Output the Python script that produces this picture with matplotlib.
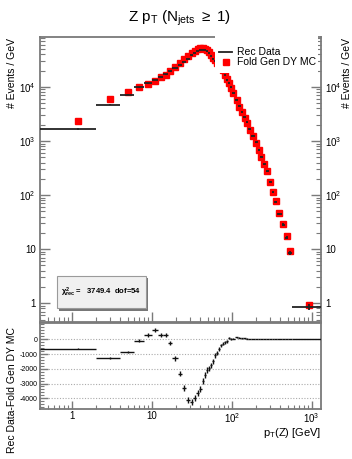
import matplotlib
matplotlib.use("Agg")
import matplotlib.pyplot as plt
import numpy as np
from matplotlib.ticker import FixedLocator, FixedFormatter, LogLocator, NullFormatter, MultipleLocator
from matplotlib.patches import Rectangle
from matplotlib.lines import Line2D

plt.rcParams['font.family'] = ['Liberation Sans', 'DejaVu Sans']
plt.rcParams['mathtext.fontset'] = 'custom'
plt.rcParams['mathtext.rm'] = 'Liberation Sans'
plt.rcParams['mathtext.it'] = 'Liberation Sans:italic'
plt.rcParams['mathtext.bf'] = 'Liberation Sans:bold'
plt.rcParams['axes.unicode_minus'] = False

# pT(Z) bin edges [GeV]
edges = [0.4, 2, 4, 6, 8, 10, 12, 14, 16, 18, 21, 24, 27, 30, 33, 36, 39, 42, 45, 48,
         51, 54, 57, 60, 64, 68, 72, 76, 80, 85, 90, 95, 100, 110, 120, 130, 140, 150,
         160, 175, 195, 210, 225, 245, 265, 290, 315, 340, 370, 420, 460, 510, 560, 1300]

# folded gen DY MC, events / GeV
mc = [2300, 5950, 8100, 9900, 11300, 12900, 15000, 16800, 19600, 23500, 28000, 32500,
      37500, 42500, 46500, 49500, 51500, 51500, 50000, 47500, 44000, 39500, 35000,
      31000, 27500, 24500, 22200, 20200, 16700, 13800, 11600, 9750, 7700, 5700, 4350,
      3400, 2700, 2180, 1620, 1250, 930, 690, 510, 370, 275, 177, 113, 78, 46, 29.5,
      17.2, 9.1, 0.94]

# rec data - folded MC
diff = [-630, -1250, -860, -100, 290, 630, 290, 290, -250, -1300, -2350, -3300,
        -4100, -4270, -3950, -3670, -3350, -2800, -2450, -2100, -1960, -1750, -1500,
        -1100, -950, -680, -420, -300, -220, -150, 70, 30, 40, 130, 110, 80, 60, 40,
        20, 15, 10, 5, 3, 2, 1, -1, -1, -2, -1.5, -1, -0.8, -0.5, -0.08]

diff_err = [40, 80, 90, 110, 120, 130, 140, 150, 160, 160, 170, 180, 190, 200, 200,
            200, 200, 200, 200, 190, 180, 170, 160, 150, 140, 130, 120, 110, 100, 90,
            80, 70, 55, 45, 38, 32, 28, 24, 18, 15, 12, 10, 8, 6.5, 5, 4, 3, 2.5, 1.8,
            1.4, 1.0, 0.8, 0.12]

chi2_text = r'$\mathbf{\chi^{2}_{rec}}$ =   3749.4  dof=54'

edges = np.array(edges)
lo, hi = edges[:-1], edges[1:]
centers = (lo + hi) / 2.0
mc = np.array(mc)
diff = np.array(diff)
diff_err = np.array(diff_err)
data = mc + diff

W, H = 352.0, 459.0
fig = plt.figure(figsize=(W / 100, H / 100), dpi=100)

def fx(px):
    return px / W

def fy(py):
    return 1 - py / H

frame_col = '#7a7a7a'
ax = fig.add_axes([fx(40), fy(322), fx(321) - fx(40), fy(36.7) - fy(322)])
axr = fig.add_axes([fx(40), fy(409), fx(321) - fx(40), fy(323) - fy(409)])

# ---- top pad
ax.plot(centers, mc, 's', color='red', ms=4.0, mec='red', zorder=3)
ax.errorbar(centers, data, xerr=[centers - lo, hi - centers], yerr=diff_err,
            fmt='none', ecolor='#222222', elinewidth=1.3, capsize=0, zorder=4)
ax.set_xscale('log')
ax.set_yscale('log')
ax.set_xlim(0.4, 1307)
ax.set_ylim(0.45, 85000)
ax.yaxis.set_major_locator(FixedLocator([1, 10, 100, 1000, 10000]))
ax.yaxis.set_major_formatter(FixedFormatter(['1', '10', '$10^2$', '$10^3$', '$10^4$']))
ax.yaxis.set_minor_locator(LogLocator(base=10, subs=np.arange(2, 10), numticks=20))
ax.yaxis.set_minor_formatter(NullFormatter())
ax.xaxis.set_major_locator(FixedLocator([1, 10, 100, 1000]))
ax.xaxis.set_minor_locator(LogLocator(base=10, subs=np.arange(2, 10), numticks=20))
ax.xaxis.set_major_formatter(NullFormatter())
ax.xaxis.set_minor_formatter(NullFormatter())
ax.tick_params(axis='y', which='both', direction='in', left=True, right=True,
               labelleft=True, labelright=True, labelsize=7, color=frame_col, pad=3)
ax.tick_params(axis='x', which='both', direction='in', bottom=True, top=False,
               color=frame_col)
ax.tick_params(which='major', length=7, width=1.0)
ax.tick_params(which='minor', length=3.5, width=0.8)
for s in ax.spines.values():
    s.set_color(frame_col)
    s.set_linewidth(1.3)

# ---- bottom pad
axr.errorbar(centers, diff, xerr=[centers - lo, hi - centers], yerr=diff_err,
             fmt='none', ecolor='#111111', elinewidth=1.0, capsize=0, zorder=3)
axr.set_xscale('log')
axr.set_xlim(0.4, 1307)
axr.set_ylim(-4725, 1100)
axr.yaxis.set_major_locator(FixedLocator([0, -1000, -2000, -3000, -4000]))
axr.yaxis.set_major_formatter(FixedFormatter(['0', '-1000', '-2000', '-3000', '-4000']))
axr.yaxis.set_minor_locator(MultipleLocator(200))
axr.xaxis.set_major_locator(FixedLocator([1, 10, 100, 1000]))
axr.xaxis.set_major_formatter(FixedFormatter(['1', '10', '$10^2$', '$10^3$']))
axr.xaxis.set_minor_locator(LogLocator(base=10, subs=np.arange(2, 10), numticks=20))
axr.xaxis.set_minor_formatter(NullFormatter())
axr.grid(axis='y', which='major', linestyle=(0, (1, 1.5)), color='#aaaaaa', lw=0.8)
axr.tick_params(axis='y', which='both', direction='in', left=True, right=False,
                labelsize=5, color=frame_col, pad=2)
axr.tick_params(axis='x', which='both', direction='in', bottom=True, top=False,
                labelsize=7, color=frame_col, pad=1.5)
axr.tick_params(which='major', length=6, width=1.0)
axr.tick_params(which='minor', length=3, width=0.8)
for s in axr.spines.values():
    s.set_color(frame_col)
    s.set_linewidth(1.3)

# ---- texts
fig.text(fx(180), fy(18), r'Z p$_{\rm T}$ (N$_{\rm jets}$ $\geq$ 1)', ha='center',
         va='center', fontsize=11)
fig.text(fx(12), fy(38), '# Events / GeV', rotation=90, ha='center', va='top', fontsize=7.5)
fig.text(fx(347), fy(38), '# Events / GeV', rotation=90, ha='center', va='top', fontsize=7.5)
fig.text(fx(12), fy(327), 'Rec Data-Fold Gen DY MC', rotation=90, ha='center', va='top',
         fontsize=7.5)
fig.text(fx(321), fy(433), r'p$_{\rm T}$(Z) [GeV]', ha='right', va='center', fontsize=8)

# ---- legend (white box over the frame)
fig.add_artist(Rectangle((fx(215), fy(73)), fx(318) - fx(215), fy(31) - fy(73),
                         transform=fig.transFigure, facecolor='white', edgecolor='none',
                         zorder=5))
fig.add_artist(Line2D([fx(219), fx(232)], [fy(52), fy(52)], transform=fig.transFigure,
                      color='#222222', lw=1.3, zorder=6))
fig.add_artist(Line2D([fx(226)], [fy(62)], transform=fig.transFigure, marker='s',
                      color='red', ms=4.0, lw=0, zorder=6))
fig.text(fx(237), fy(52), 'Rec Data', ha='left', va='center', fontsize=7.5, zorder=7)
fig.text(fx(237), fy(62), 'Fold Gen DY MC', ha='left', va='center', fontsize=7.5, zorder=7)

# ---- chi2 box with shadow
fig.add_artist(Rectangle((fx(59), fy(310.5)), fx(148) - fx(59), fy(278) - fy(310.5),
                         transform=fig.transFigure, facecolor='#777777', edgecolor='none',
                         zorder=5))
fig.add_artist(Rectangle((fx(57), fy(308)), fx(146) - fx(57), fy(276) - fy(308),
                         transform=fig.transFigure, facecolor='#f0f0f0',
                         edgecolor='#9a9a9a', lw=0.8, zorder=6))
fig.text(fx(61), fy(292), chi2_text, ha='left', va='center', fontsize=5.5,
         fontweight='bold', zorder=7)

fig.savefig('out.png', dpi=100)
